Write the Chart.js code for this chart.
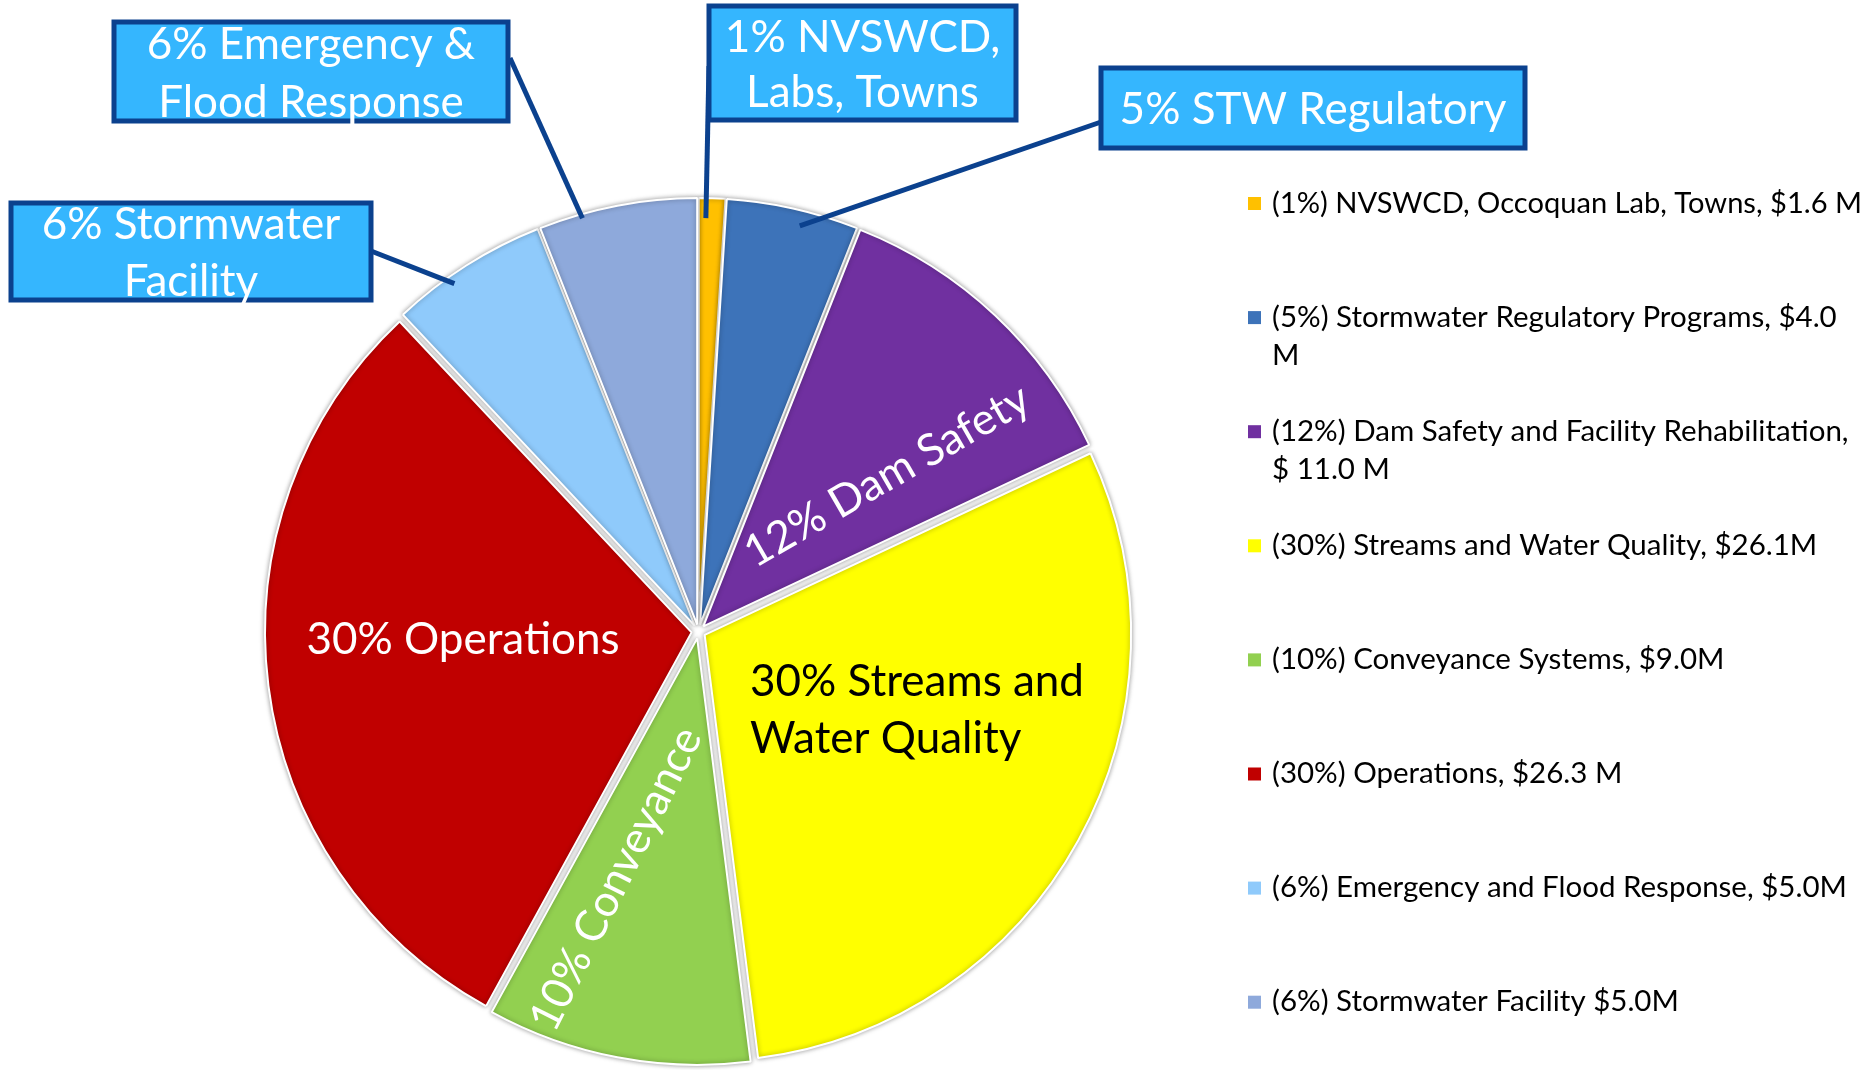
<!DOCTYPE html>
<html><head><meta charset="utf-8">
<script src="https://cdn.jsdelivr.net/npm/chart.js@4"></script>
<style>html,body{margin:0;padding:0;background:#fff;overflow:hidden}canvas{display:block}</style>
</head><body>
<canvas id="c" width="1876" height="1070"></canvas>
<script>
const categories = ["NVSWCD, Occoquan Lab, Towns", "Stormwater Regulatory Programs", "Dam Safety and Facility Rehabilitation", "Streams and Water Quality", "Conveyance Systems", "Operations", "Emergency and Flood Response", "Stormwater Facility"];
const sharePercent = [1, 5, 12, 30, 10, 30, 6, 6];
const budgetMillions = [1.6, 4.0, 11.0, 26.1, 9.0, 26.3, 5.0, 5.0];
const legendLabels = [
  ["(1%) NVSWCD, Occoquan Lab, Towns, $1.6 M"],
  ["(5%) Stormwater Regulatory Programs, $4.0", "M"],
  ["(12%) Dam Safety and Facility Rehabilitation,", "$ 11.0 M"],
  ["(30%) Streams and Water Quality, $26.1M"],
  ["(10%) Conveyance Systems, $9.0M"],
  ["(30%) Operations, $26.3 M"],
  ["(6%) Emergency and Flood Response, $5.0M"],
  ["(6%) Stormwater Facility $5.0M"]
];
const sliceColors = ["#FFC000", "#3D73B9", "#7030A0", "#FFFF00", "#92D050", "#C00000", "#8FCAFB", "#8EA9DB"];
const calloutTexts = [["6% Emergency &", "Flood Response"], ["1% NVSWCD,", "Labs, Towns"], ["5% STW Regulatory"], ["6% Stormwater", "Facility"]];
const calloutSlices = [7, 0, 1, 6];
const insideTexts = [["12% Dam Safety"], ["30% Streams and", "Water Quality"], ["10% Conveyance"], ["30% Operations"]];

const FONT = 'Lato, "Open Sans", sans-serif';
const BIG = 44, SMALL = 29.5;
const EXPLODE = 7;
const RBASE = 426.5;

const calloutLayout = [
  {box:[114,22,394,99], lines:[45,103], from:[510,58], ang:0.27, rad:0.99},
  {box:[709,6,307,114], lines:[38,93], from:[709,66], ang:0.28, rad:0.953},
  {box:[1101,68,424,80], lines:[110], from:[1101,122], ang:0.58, rad:0.964},
  {box:[11,203,360,97], lines:[225,282], from:[371,251], ang:0.375, rad:0.98}
];
const insideLayout = [
  {dx:188.5, dy:-155.5, rot:-30, align:'center', color:'#fff', lh:0},
  {dx:51.5, dy:50.5, rot:0, align:'left', color:'#000', lh:57},
  {dx:-82.5, dy:247.5, rot:-63.5, align:'center', color:'#fff', lh:0},
  {dx:-235.5, dy:8.5, rot:0, align:'center', color:'#fff', lh:0}
];

function slicePoint(chart, idx, angFrac, rFrac) {
  const arc = chart.getDatasetMeta(0).data[idx];
  const mid = (arc.startAngle + arc.endAngle) / 2;
  const a = arc.startAngle + angFrac * (arc.endAngle - arc.startAngle);
  const r = arc.outerRadius * rFrac;
  return {x: arc.x + Math.cos(mid) * EXPLODE + Math.cos(a) * r, y: arc.y + Math.sin(mid) * EXPLODE + Math.sin(a) * r};
}

const explodePlugin = {
  id: 'explode',
  beforeDatasetsDraw(chart) {
    const c = chart.ctx;
    c.save();
    c.shadowColor = 'rgba(0,0,0,0.38)';
    c.shadowBlur = 5;
    chart.getDatasetMeta(0).data.forEach(arc => {
      if (arc._exploded) return;
      const orig = arc.draw;
      arc.draw = function (ctx) {
        const mid = (this.startAngle + this.endAngle) / 2;
        ctx.save();
        ctx.translate(Math.cos(mid) * EXPLODE, Math.sin(mid) * EXPLODE);
        orig.call(this, ctx);
        ctx.restore();
      };
      arc._exploded = true;
    });
  },
  afterDatasetsDraw(chart) { chart.ctx.restore(); }
};

const annotPlugin = {
  id: 'annot',
  afterDraw(chart) {
    const c = chart.ctx;
    const meta = chart.getDatasetMeta(0);
    const cx = meta.data[0].x, cy = meta.data[0].y, R = meta.data[0].outerRadius;
    const k = R / RBASE;
    c.save();
    insideTexts.forEach((lines, i) => {
      const L = insideLayout[i];
      c.save();
      c.translate(cx + L.dx * k, cy + L.dy * k);
      c.rotate(L.rot * Math.PI / 180);
      c.font = BIG + 'px ' + FONT;
      c.fillStyle = L.color;
      c.textAlign = L.align;
      c.textBaseline = 'middle';
      lines.forEach((t, j) => c.fillText(t, 0, j * L.lh));
      c.restore();
    });
    calloutLayout.forEach((L, i) => {
      const p = slicePoint(chart, calloutSlices[i], L.ang, L.rad);
      c.beginPath();
      c.moveTo(L.from[0], L.from[1]);
      c.lineTo(p.x, p.y);
      c.strokeStyle = '#0B418E';
      c.lineWidth = 5;
      c.stroke();
    });
    calloutLayout.forEach((L, i) => {
      const [x, y, w, h] = L.box;
      c.fillStyle = '#35B6FE';
      c.fillRect(x, y, w, h);
      c.strokeStyle = '#0B418E';
      c.lineWidth = 5;
      c.strokeRect(x, y, w, h);
      c.font = BIG + 'px ' + FONT;
      c.fillStyle = '#fff';
      c.textAlign = 'center';
      c.textBaseline = 'middle';
      calloutTexts[i].forEach((t, j) => c.fillText(t, x + w / 2, L.lines[j]));
    });
    const ds = chart.data.datasets[0];
    c.font = SMALL + 'px ' + FONT;
    c.textAlign = 'left';
    c.textBaseline = 'middle';
    legendLabels.forEach((lines, i) => {
      const y = 203 + i * 114.1;
      c.fillStyle = ds.backgroundColor[i];
      c.fillRect(1248, y - 6, 13, 13);
      c.fillStyle = '#000';
      lines.forEach((t, j) => c.fillText(t, 1272, y + j * 38, 590));
    });
    c.restore();
  }
};

new Chart(document.getElementById('c'), {
  type: 'pie',
  data: {
    labels: categories,
    datasets: [{
      data: sharePercent,
      backgroundColor: sliceColors,
      borderColor: '#ffffff',
      borderWidth: 2,
      radius: RBASE
    }]
  },
  options: {
    responsive: false,
    animation: false,
    devicePixelRatio: 1,
    radius: RBASE,
    layout: {padding: {left: 263.5, right: 742.5, top: 196.5, bottom: 3.5}},
    plugins: {legend: {display: false}, tooltip: {enabled: false}}
  },
  plugins: [explodePlugin, annotPlugin]
});
</script>
</body></html>
